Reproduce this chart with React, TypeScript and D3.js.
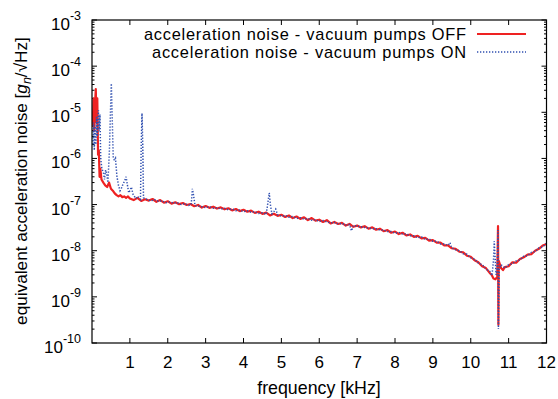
import React from "react";
import * as d3 from "d3";

const W = 558;
const H = 399;

const xTicks = [1, 2, 3, 4, 5, 6, 7, 8, 9, 10, 11, 12];
const yExponents = [-10, -9, -8, -7, -6, -5, -4, -3];

const seriesNames = [
  "acceleration noise - vacuum pumps OFF",
  "acceleration noise - vacuum pumps ON",
];

// frequency [kHz], noise [g_n/sqrt(Hz)] -- pumps OFF
const pumpsOff: [number, number][] = [
  [0.02, 5e-6], [0.04, 2e-5], [0.06, 4e-6], [0.08, 1.5e-5], [0.1, 3.2e-5], [0.12, 6e-6],
  [0.14, 2e-5], [0.16, 1.2e-6], [0.18, 1.5e-6], [0.2, 4e-7], [0.22, 6e-7], [0.25, 3.5e-7],
  [0.3, 3.0e-7], [0.35, 2.6e-7], [0.4, 2.4e-7], [0.45, 3.0e-7], [0.5, 2.2e-7], [0.55, 2.0e-7],
  [0.6, 1.75e-7], [0.65, 1.6e-7], [0.7, 1.5e-7], [0.75, 1.6e-7], [0.8, 1.45e-7], [0.85, 1.5e-7],
  [0.9, 1.4e-7], [0.95, 1.5e-7], [1.0, 1.35e-7], [1.1, 1.25e-7], [1.2, 1.4e-7], [1.3, 1.2e-7],
  [1.4, 1.3e-7], [1.5, 1.22e-7], [1.6, 1.32e-7], [1.7, 1.15e-7], [1.8, 1.25e-7], [1.9, 1.1e-7],
  [2.0, 1.18e-7], [2.1, 1.05e-7], [2.2, 1.12e-7], [2.3, 1.02e-7], [2.4, 1.08e-7], [2.5, 9.8e-8],
  [2.6, 1.03e-7], [2.7, 9.2e-8], [2.8, 9.8e-8], [2.9, 8.6e-8], [3.0, 9.3e-8], [3.1, 8.5e-8],
  [3.2, 9.0e-8], [3.3, 8.2e-8], [3.4, 8.7e-8], [3.5, 7.9e-8], [3.6, 8.3e-8], [3.7, 7.5e-8],
  [3.8, 8.0e-8], [3.9, 7.2e-8], [4.0, 7.7e-8], [4.1, 7.0e-8], [4.2, 7.4e-8], [4.3, 6.6e-8],
  [4.4, 7.0e-8], [4.5, 6.3e-8], [4.6, 6.7e-8], [4.7, 5.8e-8], [4.8, 6.3e-8], [4.9, 5.7e-8],
  [5.0, 6.0e-8], [5.1, 5.4e-8], [5.2, 5.8e-8], [5.3, 5.1e-8], [5.4, 5.5e-8], [5.5, 4.9e-8],
  [5.6, 5.3e-8], [5.7, 4.6e-8], [5.8, 5.1e-8], [5.9, 4.5e-8], [6.0, 4.7e-8], [6.1, 4.2e-8],
  [6.2, 4.6e-8], [6.3, 3.9e-8], [6.4, 4.2e-8], [6.5, 3.8e-8], [6.6, 4.0e-8], [6.7, 3.5e-8],
  [6.8, 3.8e-8], [6.9, 3.3e-8], [7.0, 3.5e-8], [7.1, 3.2e-8], [7.2, 3.4e-8], [7.3, 3.0e-8],
  [7.4, 3.2e-8], [7.5, 2.85e-8], [7.6, 3.0e-8], [7.7, 2.65e-8], [7.8, 2.8e-8], [7.9, 2.45e-8],
  [8.0, 2.6e-8], [8.1, 2.3e-8], [8.2, 2.45e-8], [8.3, 2.15e-8], [8.4, 2.25e-8], [8.5, 2.0e-8],
  [8.6, 2.1e-8], [8.7, 1.85e-8], [8.8, 1.9e-8], [8.9, 1.65e-8], [9.0, 1.7e-8], [9.1, 1.5e-8],
  [9.2, 1.5e-8], [9.3, 1.3e-8], [9.4, 1.3e-8], [9.5, 1.13e-8], [9.6, 1.1e-8], [9.7, 9.5e-9],
  [9.8, 9.2e-9], [9.9, 7.8e-9], [10.0, 7.4e-9], [10.1, 6.2e-9], [10.2, 5.6e-9], [10.3, 4.6e-9],
  [10.4, 4.2e-9], [10.5, 3.3e-9], [10.55, 3.0e-9], [10.6, 2.5e-9], [10.65, 2.4e-9], [10.7, 2.7e-9],
  [10.72, 3.4e-8], [10.73, 2.5e-10], [10.74, 6e-9], [10.8, 4.2e-9], [10.85, 3.8e-9], [10.9, 4.4e-9],
  [11.0, 4.6e-9], [11.1, 5.6e-9], [11.2, 5.5e-9], [11.3, 6.6e-9], [11.4, 7.2e-9], [11.5, 8.2e-9],
  [11.6, 8.4e-9], [11.7, 1.0e-8], [11.8, 1.1e-8], [11.9, 1.3e-8], [12.0, 1.4e-8],
];

// frequency [kHz], noise [g_n/sqrt(Hz)] -- pumps ON
const pumpsOn: [number, number][] = [
  [0.02, 2e-6], [0.04, 6e-6], [0.06, 1.5e-6], [0.08, 5e-6], [0.1, 2e-6], [0.12, 8e-6],
  [0.14, 3e-6], [0.17, 1.1e-5], [0.19, 4e-6], [0.21, 9e-6], [0.23, 1e-6], [0.26, 6e-7],
  [0.3, 5e-7], [0.33, 3.5e-7], [0.36, 5.6e-7], [0.39, 4.5e-7], [0.42, 3.0e-7], [0.46, 1.5e-6],
  [0.49, 1.2e-5], [0.51, 4.2e-5], [0.53, 1.0e-5], [0.56, 1.1e-6], [0.59, 9e-7], [0.62, 1.0e-6],
  [0.66, 4e-7], [0.7, 2.6e-7], [0.74, 2.0e-7], [0.78, 2.3e-7], [0.82, 2.8e-7], [0.86, 3.2e-7],
  [0.9, 4.0e-7], [0.93, 2.8e-7], [0.97, 1.8e-7], [1.0, 2.0e-7], [1.04, 2.4e-7], [1.08, 1.7e-7],
  [1.12, 1.5e-7], [1.16, 1.35e-7], [1.2, 1.5e-7], [1.25, 1.4e-7], [1.28, 1.3e-7], [1.3, 2e-6],
  [1.32, 9.5e-6], [1.34, 2e-6], [1.36, 1.4e-7], [1.45, 1.3e-7], [1.55, 1.2e-7], [1.65, 1.28e-7],
  [1.75, 1.18e-7], [1.85, 1.2e-7], [1.95, 1.1e-7], [2.05, 1.14e-7], [2.15, 1.08e-7], [2.25, 1.1e-7],
  [2.35, 1.0e-7], [2.45, 1.05e-7], [2.55, 9.6e-8], [2.62, 1.0e-7], [2.65, 2.2e-7], [2.68, 1.6e-7],
  [2.72, 9.5e-8], [2.8, 9.3e-8], [2.9, 9.0e-8], [3.0, 8.6e-8], [3.1, 9.0e-8], [3.2, 8.3e-8],
  [3.3, 8.6e-8], [3.4, 8.0e-8], [3.5, 8.3e-8], [3.6, 7.7e-8], [3.7, 8.0e-8], [3.8, 7.4e-8],
  [3.9, 7.6e-8], [4.0, 7.0e-8], [4.1, 7.3e-8], [4.2, 6.8e-8], [4.3, 7.0e-8], [4.4, 6.4e-8],
  [4.5, 6.6e-8], [4.6, 6.1e-8], [4.65, 1.2e-7], [4.68, 1.8e-7], [4.71, 1.0e-7], [4.75, 6.3e-8],
  [4.8, 7.0e-8], [4.85, 8.0e-8], [4.9, 6.0e-8], [5.0, 5.6e-8], [5.1, 5.8e-8], [5.2, 5.3e-8],
  [5.3, 5.5e-8], [5.4, 5.0e-8], [5.5, 5.2e-8], [5.6, 4.8e-8], [5.7, 5.0e-8], [5.8, 4.6e-8],
  [5.9, 4.7e-8], [6.0, 4.3e-8], [6.1, 4.5e-8], [6.2, 4.2e-8], [6.3, 4.0e-8], [6.4, 4.1e-8],
  [6.5, 3.8e-8], [6.6, 3.9e-8], [6.7, 3.6e-8], [6.8, 3.7e-8], [6.85, 2.7e-8], [6.9, 3.5e-8],
  [7.0, 3.4e-8], [7.1, 3.3e-8], [7.2, 3.2e-8], [7.3, 3.1e-8], [7.4, 3.0e-8], [7.5, 3.0e-8],
  [7.6, 2.8e-8], [7.7, 2.8e-8], [7.8, 2.6e-8], [7.9, 2.6e-8], [8.0, 2.4e-8], [8.1, 2.5e-8],
  [8.2, 2.3e-8], [8.3, 2.3e-8], [8.4, 2.1e-8], [8.5, 2.1e-8], [8.6, 1.9e-8], [8.7, 2.0e-8],
  [8.8, 1.75e-8], [8.9, 1.8e-8], [9.0, 1.6e-8], [9.1, 1.6e-8], [9.2, 1.4e-8], [9.3, 1.4e-8],
  [9.4, 1.3e-8], [9.45, 1.5e-8], [9.5, 1.15e-8], [9.6, 1.05e-8], [9.7, 1.0e-8], [9.8, 8.6e-9],
  [9.9, 8.4e-9], [10.0, 7.0e-9], [10.1, 6.6e-9], [10.2, 5.4e-9], [10.3, 5.0e-9], [10.4, 4.0e-9],
  [10.5, 3.6e-9], [10.56, 2.9e-9], [10.6, 6e-9], [10.62, 1.6e-8], [10.64, 8e-9], [10.67, 3e-9],
  [10.7, 4e-9], [10.72, 2.8e-8], [10.73, 2e-10], [10.75, 4e-9], [10.8, 5.0e-9], [10.9, 4.2e-9],
  [11.0, 5.0e-9], [11.1, 5.2e-9], [11.2, 6.0e-9], [11.3, 6.3e-9], [11.4, 7.6e-9], [11.5, 7.8e-9],
  [11.6, 9.2e-9], [11.7, 9.6e-9], [11.8, 1.15e-8], [11.9, 1.2e-8], [12.0, 1.45e-8],
];

const M = { left: 92, right: 546.5, top: 20, bottom: 343 };
const RED = "#ee2222";
const BLUE = "#2f4fb0";
const FONT = "'Liberation Sans', Arial, Helvetica, sans-serif";

export default function App() {
  const x = d3.scaleLinear().domain([0, 12]).range([M.left, M.right]);
  const y = d3.scaleLog().domain([1e-10, 1e-3]).range([M.bottom, M.top]);
  const line = d3
    .line<[number, number]>()
    .x((d) => x(d[0]))
    .y((d) => y(d[1]));

  const minor: number[] = [];
  for (let e = -10; e < -3; e++) {
    for (let k = 2; k <= 9; k++) minor.push(k * Math.pow(10, e));
  }

  return (
    <svg
      width={W}
      height={H}
      style={{ position: "absolute", left: 0, top: 0, background: "#fff" }}
      fontFamily={FONT}
    >
      <rect x={0} y={0} width={W} height={H} fill="#fff" />
      <defs>
        <clipPath id="plot">
          <rect x={M.left} y={M.top} width={M.right - M.left} height={M.bottom - M.top} />
        </clipPath>
      </defs>

      {/* ticks */}
      <g stroke="#000" strokeWidth={1}>
        {xTicks.map((t) => (
          <g key={"xt" + t}>
            <line x1={x(t)} x2={x(t)} y1={M.bottom} y2={M.bottom - 5} />
            <line x1={x(t)} x2={x(t)} y1={M.top} y2={M.top + 5} />
          </g>
        ))}
        {yExponents.map((e) => (
          <g key={"yt" + e}>
            <line x1={M.left} x2={M.left + 5} y1={y(Math.pow(10, e))} y2={y(Math.pow(10, e))} />
            <line x1={M.right} x2={M.right - 5} y1={y(Math.pow(10, e))} y2={y(Math.pow(10, e))} />
          </g>
        ))}
        {minor.map((v, i) => (
          <g key={"ym" + i}>
            <line x1={M.left} x2={M.left + 2.5} y1={y(v)} y2={y(v)} />
            <line x1={M.right} x2={M.right - 2.5} y1={y(v)} y2={y(v)} />
          </g>
        ))}
      </g>

      {/* data */}
      <g clipPath="url(#plot)" fill="none">
        <path d={line(pumpsOff) || ""} stroke={RED} strokeWidth={2.2} strokeLinejoin="round" />
        <path
          d={line(pumpsOn) || ""}
          stroke={BLUE}
          strokeWidth={1.5}
          strokeDasharray="1.3 1.7"
        />
      </g>

      {/* frame */}
      <rect
        x={M.left}
        y={M.top}
        width={M.right - M.left}
        height={M.bottom - M.top}
        fill="none"
        stroke="#000"
        strokeWidth={1.2}
      />

      {/* x tick labels */}
      <g fontSize={17} textAnchor="middle" fill="#000">
        {xTicks.map((t) => (
          <text key={"xl" + t} x={x(t)} y={368}>
            {t}
          </text>
        ))}
      </g>

      {/* y tick labels */}
      <g fontSize={17} fill="#000">
        {yExponents.map((e) => (
          <text key={"yl" + e} x={81} y={y(Math.pow(10, e)) + 10} textAnchor="end">
            10
            <tspan fontSize={12.5} dy={-10}>
              {e}
            </tspan>
          </text>
        ))}
      </g>

      {/* axis titles */}
      <text x={319} y={394} fontSize={17.8} textAnchor="middle" fill="#000">
        frequency [kHz]
      </text>
      <text
        transform={`translate(27,${181}) rotate(-90)`}
        fontSize={17.2}
        textAnchor="middle"
        fill="#000"
      >
        equivalent acceleration noise [
        <tspan fontStyle="italic">g</tspan>
        <tspan fontStyle="italic" fontSize={12.5} dy={4}>
          n
        </tspan>
        <tspan dy={-4}>/√Hz]</tspan>
      </text>

      {/* legend */}
      <g fontSize={16.4} fill="#000" textAnchor="end">
        <text x={466} y={39.5} textLength={322} lengthAdjust="spacing">
          {seriesNames[0]}
        </text>
        <text x={466} y={58} textLength={314} lengthAdjust="spacing">
          {seriesNames[1]}
        </text>
      </g>
      <line x1={477} x2={526} y1={34} y2={34} stroke={RED} strokeWidth={2} />
      <line
        x1={477}
        x2={526}
        y1={52}
        y2={52}
        stroke={BLUE}
        strokeWidth={1.5}
        strokeDasharray="1.3 1.7"
      />
    </svg>
  );
}
